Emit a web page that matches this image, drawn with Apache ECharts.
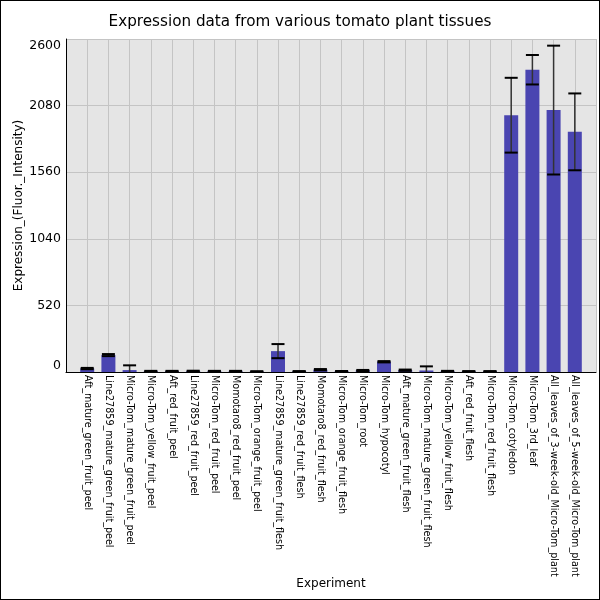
<!DOCTYPE html>
<html>
<head>
<meta charset="utf-8">
<script src="https://cdn.jsdelivr.net/npm/echarts@6/dist/echarts.min.js"></script>
<style>
  html, body { margin: 0; padding: 0; background: #fff; }
  #chart { width: 600px; height: 600px; box-sizing: border-box; border: 1px solid #000; }
</style>
</head>
<body>
<div id="chart"></div>
<script>
const tissues = [
  "Aft_mature_green_fruit_peel",
  "Line27859_mature_green_fruit_peel",
  "Micro-Tom_mature_green_fruit_peel",
  "Micro-Tom_yellow_fruit_peel",
  "Aft_red_fruit_peel",
  "Line27859_red_fruit_peel",
  "Micro-Tom_red_fruit_peel",
  "Momotaro8_red_fruit_peel",
  "Micro-Tom_orange_fruit_peel",
  "Line27859_mature_green_fruit_flesh",
  "Line27859_red_fruit_flesh",
  "Momotaro8_red_fruit_flesh",
  "Micro-Tom_orange_fruit_flesh",
  "Micro-Tom_root",
  "Micro-Tom_hypocotyl",
  "Aft_mature_green_fruit_flesh",
  "Micro-Tom_mature_green_fruit_flesh",
  "Micro-Tom_yellow_fruit_flesh",
  "Aft_red_fruit_flesh",
  "Micro-Tom_red_fruit_flesh",
  "Micro-Tom_cotyledon",
  "Micro-Tom_3rd_leaf",
  "All_leaves_of_3-week-old_Micro-Tom_plant",
  "All_leaves_of_5-week-old_Micro-Tom_plant"
];
const expression = [27, 132, 15, 6, 6, 7, 6, 6, 4, 163, 5, 18, 5, 12, 80, 14, 12, 6, 5, 5, 2005, 2360, 2045, 1875];
const stdDev = [5, 8, 37, 3, 3, 3, 3, 3, 2, 55, 2, 5, 3, 4, 5, 5, 32, 3, 2, 2, 292, 115, 503, 300];
const yTicks = [0, 520, 1040, 1560, 2080, 2600];

// pad with empty slots so there is a full band on each side
const cats = [""].concat(tissues, [""]);
const barData = expression.map((v, i) => [i + 1, v]);
const errData = expression.map((v, i) => [i + 1, v - stdDev[i], v + stdDev[i]]);

const chart = echarts.init(document.getElementById("chart"));
chart.setOption({
  animation: false,
  textStyle: { fontFamily: "DejaVu Sans" },
  title: {
    text: "Expression data from various tomato plant tissues",
    left: "center",
    top: 9,
    textStyle: { fontSize: 15.2, fontWeight: "normal", color: "#000", fontFamily: "DejaVu Sans" }
  },
  grid: {
    left: 65, right: 3, top: 38, bottom: 227,
    outerBoundsMode: "none",
    containLabel: false,
    backgroundColor: "#e5e5e5", show: true, borderWidth: 0
  },
  xAxis: {
    type: "category",
    data: cats,
    boundaryGap: false,
    name: "Experiment",
    nameLocation: "middle",
    nameGap: 206,
    nameMoveOverlap: false,
    nameTextStyle: { fontSize: 12, color: "#000" },
    axisLine: { lineStyle: { color: "#000", width: 1 } },
    axisTick: { show: false },
    axisLabel: { rotate: -90, interval: 0, fontSize: 9.6, color: "#000", margin: 3 },
    splitLine: { show: true, lineStyle: { color: "#c4c4c4", width: 1 } }
  },
  yAxis: {
    type: "value",
    min: yTicks[0],
    max: yTicks[yTicks.length - 1],
    interval: yTicks[1] - yTicks[0],
    name: "Expression_(Fluor._Intensity)",
    nameLocation: "middle",
    nameGap: 41,
    nameMoveOverlap: false,
    nameTextStyle: { fontSize: 12, color: "#000" },
    axisLine: { show: true, lineStyle: { color: "#000", width: 1 } },
    axisTick: { show: false },
    axisLabel: {
      fontSize: 12.5, color: "#000", margin: 5,
      formatter: v => String(v),
      verticalAlignMinLabel: "bottom", verticalAlignMaxLabel: "top"
    },
    splitLine: { lineStyle: { color: "#c4c4c4", width: 1 } }
  },
  series: [
    {
      type: "bar",
      data: barData,
      barWidth: 14,
      itemStyle: { color: "#4a45b1" }
    },
    {
      type: "custom",
      data: errData,
      z: 5,
      clip: true,
      renderItem: function (params, api) {
        const x = api.value(0);
        const lo = api.coord([x, api.value(1)]);
        const hi = api.coord([x, api.value(2)]);
        const half = 6.5;
        return {
          type: "group",
          children: [
            { type: "line", shape: { x1: lo[0], y1: lo[1], x2: hi[0], y2: hi[1] }, style: { stroke: "#333", lineWidth: 1.5 } },
            { type: "line", shape: { x1: hi[0] - half, y1: hi[1], x2: hi[0] + half, y2: hi[1] }, style: { stroke: "#000", lineWidth: 2 } },
            { type: "line", shape: { x1: lo[0] - half, y1: lo[1], x2: lo[0] + half, y2: lo[1] }, style: { stroke: "#000", lineWidth: 2 } }
          ]
        };
      }
    }
  ]
});
</script>
</body>
</html>
